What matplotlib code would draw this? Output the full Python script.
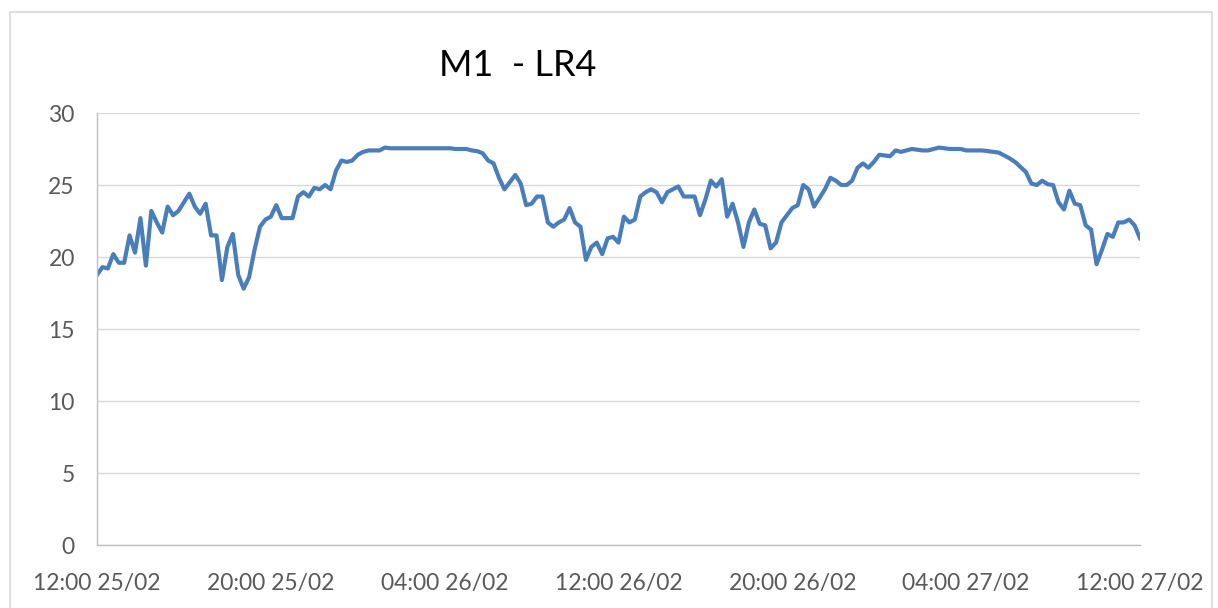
import matplotlib
matplotlib.use("Agg")
import matplotlib.pyplot as plt
from matplotlib.patches import Rectangle
import numpy as np

# ── Data: readings every 15 minutes from 12:00 25/02 to 12:00 27/02 ─────────
STEP_H = 0.25
temps = [
    18.75, 19.3, 19.2, 20.2, 19.6, 19.6, 21.5, 20.3, 22.7, 19.4,
    23.2, 22.4, 21.7, 23.5, 22.9, 23.2, 23.8, 24.4, 23.5, 23.0,
    23.7, 21.5, 21.5, 18.4, 20.7, 21.6, 18.75, 17.8, 18.6, 20.5,
    22.1, 22.6, 22.8, 23.6, 22.7, 22.7, 22.7, 24.2, 24.5, 24.2,
    24.8, 24.7, 25.0, 24.7, 26.0, 26.7, 26.6, 26.7, 27.1, 27.3,
    27.4, 27.4, 27.4, 27.6, 27.55, 27.55, 27.55, 27.55, 27.55, 27.55,
    27.55, 27.55, 27.55, 27.55, 27.55, 27.55, 27.5, 27.5, 27.5, 27.4,
    27.35, 27.2, 26.7, 26.5, 25.5, 24.7, 25.2, 25.7, 25.1, 23.6,
    23.7, 24.2, 24.2, 22.4, 22.1, 22.4, 22.6, 23.4, 22.4, 22.1,
    19.8, 20.7, 21.0, 20.2, 21.3, 21.4, 21.0, 22.8, 22.4, 22.6,
    24.2, 24.5, 24.7, 24.5, 23.8, 24.5, 24.7, 24.9, 24.2, 24.2,
    24.2, 22.9, 24.0, 25.3, 24.9, 25.4, 22.8, 23.7, 22.4, 20.7,
    22.4, 23.3, 22.3, 22.2, 20.6, 21.0, 22.4, 22.9, 23.4, 23.6,
    25.0, 24.7, 23.5, 24.1, 24.7, 25.5, 25.3, 25.0, 25.0, 25.3,
    26.2, 26.5, 26.2, 26.6, 27.1, 27.05, 27.0, 27.4, 27.3, 27.4,
    27.5, 27.45, 27.4, 27.4, 27.5, 27.6, 27.55, 27.5, 27.5, 27.5,
    27.4, 27.4, 27.4, 27.4, 27.35, 27.3, 27.25, 27.05, 26.85, 26.6,
    26.25, 25.9, 25.1, 25.0, 25.3, 25.05, 25.0, 23.8, 23.3, 24.6,
    23.7, 23.6, 22.2, 21.9, 19.5, 20.5, 21.6, 21.4, 22.4, 22.4,
    22.6, 22.2, 21.3,
]
hours = np.arange(len(temps)) * STEP_H

tick_hours = [0, 8, 16, 24, 32, 40, 48]
tick_labels = ["12:00 25/02", "20:00 25/02", "04:00 26/02", "12:00 26/02",
               "20:00 26/02", "04:00 27/02", "12:00 27/02"]
y_ticks = [0, 5, 10, 15, 20, 25, 30]

# ── Plot ─────────────────────────────────────────────────────────────────────
plt.rcParams["font.family"] = ["Lato", "DejaVu Sans"]
C_LINE = "#4A7EBB"
C_TEXT = "#595959"

fig = plt.figure(figsize=(12.18, 6.08), dpi=100)
ax = fig.add_axes([97 / 1218, 1 - 545 / 608, (1140 - 97) / 1218, (545 - 113) / 608])

ax.plot(hours, temps, color=C_LINE, linewidth=3.0, solid_joinstyle="round")

ax.set_xlim(0, 48)
ax.set_ylim(0, 30)
ax.set_xticks(tick_hours)
ax.set_xticklabels(tick_labels)
ax.set_yticks(y_ticks)
ax.tick_params(axis="both", length=0, labelsize=16.5, colors=C_TEXT)
ax.tick_params(axis="x", pad=20)
ax.tick_params(axis="y", pad=16)
ax.grid(True, axis="y", color="#D9D9D9", linewidth=1.0)
ax.set_axisbelow(True)
for side in ("top", "right"):
    ax.spines[side].set_visible(False)
for side in ("left", "bottom"):
    ax.spines[side].set_color("#BFBFBF")
    ax.spines[side].set_linewidth(1.0)

fig.text(518 / 1218, 1 - 65 / 608, "M1  - LR4", ha="center", va="center",
         fontsize=26, color="#000000")

# chart-area border like the spreadsheet frame
fig.patches.append(Rectangle((10 / 1218, -0.05), 1202 / 1218, 1.05 - 12 / 608,
                             transform=fig.transFigure, fill=False,
                             edgecolor="#D9D9D9", linewidth=1.2))

fig.savefig("out.png", dpi=100)
